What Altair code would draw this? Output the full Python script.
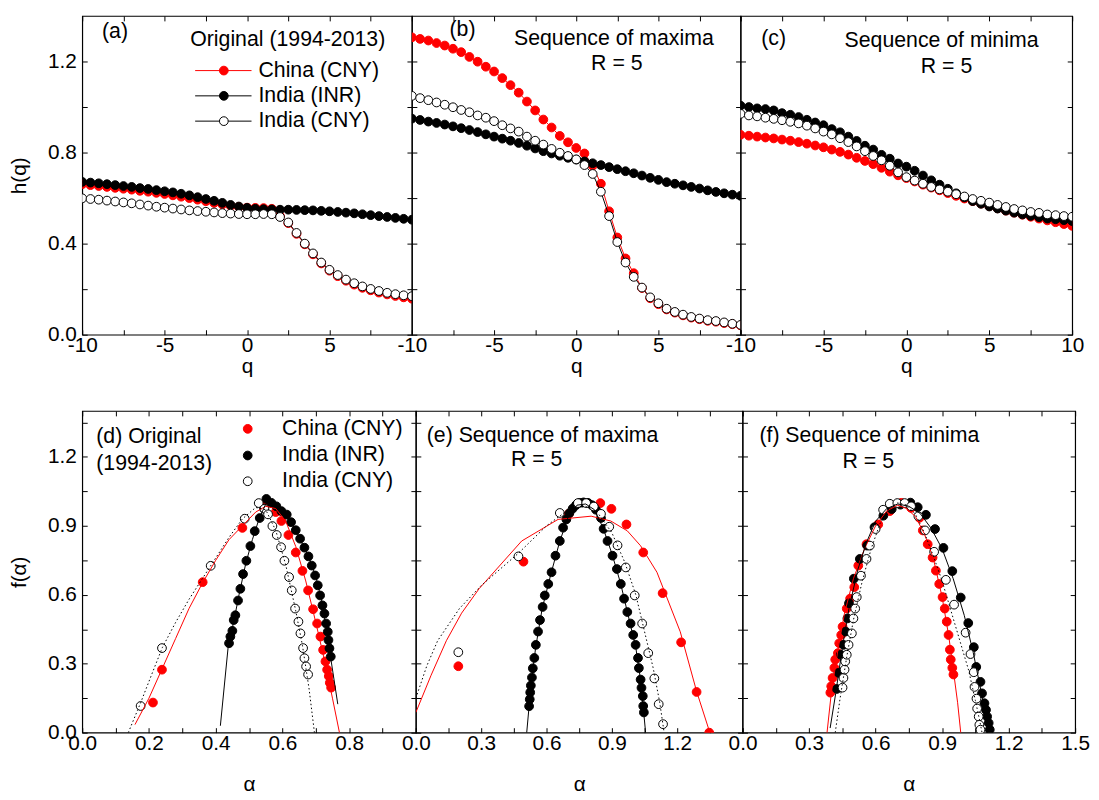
import json
import altair as alt
import pandas as pd

FONT = "Liberation Sans"
TICK = 5
LAB = 21
ANN = 21.5
MS = 78

# ---------------- top row: h(q) ----------------
q_vals = [-10.0, -9.5, -9.0, -8.5, -8.0, -7.5, -7.0, -6.5, -6.0, -5.5, -5.0, -4.5, -4.0, -3.5,
          -3.0, -2.5, -2.0, -1.5, -1.0, -0.5, 0.0, 0.5, 1.0, 1.5, 2.0, 2.5, 3.0, 3.5, 4.0, 4.5,
          5.0, 5.5, 6.0, 6.5, 7.0, 7.5, 8.0, 8.5, 9.0, 9.5, 10.0]

a_china = [0.661, 0.657, 0.653, 0.649, 0.645, 0.641, 0.637, 0.632, 0.628, 0.623,
           0.618, 0.612, 0.606, 0.600, 0.593, 0.586, 0.579, 0.572, 0.566, 0.561,
           0.558, 0.557, 0.556, 0.553, 0.520, 0.490, 0.443, 0.397, 0.353, 0.313,
           0.281, 0.257, 0.237, 0.220, 0.206, 0.195, 0.185, 0.177, 0.170, 0.164, 0.158]
a_inr = [0.671, 0.668, 0.665, 0.661, 0.657, 0.653, 0.649, 0.644, 0.640, 0.635,
         0.630, 0.625, 0.619, 0.612, 0.604, 0.596, 0.588, 0.579, 0.570, 0.563,
         0.557, 0.553, 0.551, 0.550, 0.549, 0.549, 0.548, 0.547, 0.546, 0.544,
         0.542, 0.539, 0.536, 0.533, 0.529, 0.525, 0.521, 0.517, 0.513, 0.509, 0.505]
a_cny = [0.599, 0.596, 0.593, 0.589, 0.585, 0.581, 0.577, 0.572, 0.567, 0.562,
         0.558, 0.554, 0.550, 0.546, 0.543, 0.540, 0.537, 0.534, 0.532, 0.530,
         0.529, 0.529, 0.530, 0.529, 0.517, 0.493, 0.447, 0.400, 0.357, 0.317,
         0.285, 0.262, 0.242, 0.226, 0.212, 0.201, 0.192, 0.184, 0.178, 0.173, 0.169]

b_china = [1.306, 1.299, 1.292, 1.281, 1.270, 1.256, 1.241, 1.220, 1.199, 1.177,
           1.156, 1.127, 1.096, 1.063, 1.024, 0.985, 0.945, 0.910, 0.873, 0.845,
           0.820, 0.796, 0.742, 0.663, 0.542, 0.427, 0.335, 0.270, 0.205, 0.160,
           0.134, 0.111, 0.097, 0.085, 0.075, 0.068, 0.061, 0.057, 0.051, 0.046, 0.041]
b_inr = [0.949, 0.943, 0.936, 0.930, 0.923, 0.915, 0.907, 0.899, 0.890, 0.880,
         0.870, 0.861, 0.852, 0.842, 0.830, 0.818, 0.806, 0.796, 0.786, 0.777,
         0.769, 0.761, 0.753, 0.745, 0.736, 0.727, 0.718, 0.709, 0.699, 0.689,
         0.680, 0.670, 0.663, 0.656, 0.649, 0.642, 0.634, 0.627, 0.621, 0.615, 0.610]
b_cny = [1.049, 1.039, 1.030, 1.020, 1.010, 0.999, 0.987, 0.977, 0.963, 0.953,
         0.938, 0.920, 0.906, 0.892, 0.870, 0.852, 0.835, 0.816, 0.799, 0.785,
         0.770, 0.745, 0.706, 0.628, 0.521, 0.407, 0.317, 0.254, 0.207, 0.164,
         0.138, 0.114, 0.100, 0.088, 0.078, 0.071, 0.064, 0.060, 0.054, 0.048, 0.043]

c_china = [0.878, 0.874, 0.870, 0.866, 0.862, 0.857, 0.852, 0.846, 0.839, 0.831,
           0.823, 0.813, 0.803, 0.791, 0.777, 0.763, 0.749, 0.733, 0.716, 0.700,
           0.688, 0.673, 0.659, 0.646, 0.634, 0.622, 0.610, 0.598, 0.587, 0.576,
           0.565, 0.555, 0.545, 0.536, 0.527, 0.518, 0.510, 0.502, 0.494, 0.486, 0.478]
c_inr = [1.006, 1.000, 0.994, 0.991, 0.985, 0.973, 0.966, 0.956, 0.944, 0.932,
         0.920, 0.903, 0.889, 0.870, 0.851, 0.830, 0.813, 0.790, 0.773, 0.752,
         0.738, 0.720, 0.699, 0.678, 0.659, 0.641, 0.621, 0.603, 0.587, 0.575,
         0.563, 0.554, 0.545, 0.536, 0.528, 0.522, 0.516, 0.510, 0.507, 0.503, 0.499]
c_cny = [0.970, 0.963, 0.959, 0.953, 0.948, 0.942, 0.935, 0.928, 0.918, 0.906,
         0.892, 0.880, 0.863, 0.846, 0.827, 0.806, 0.785, 0.766, 0.742, 0.713,
         0.692, 0.677, 0.663, 0.649, 0.638, 0.628, 0.617, 0.607, 0.596, 0.588,
         0.580, 0.570, 0.561, 0.552, 0.546, 0.539, 0.535, 0.528, 0.525, 0.521, 0.518]

# ---------------- bottom row: f(alpha) points ----------------
d_china_a = [0.212, 0.239, 0.361, 0.480, 0.545, 0.580, 0.597, 0.618, 0.640, 0.660,
             0.677, 0.692, 0.704, 0.714, 0.722, 0.729, 0.734, 0.739, 0.742, 0.746]
d_china_f = [0.131, 0.274, 0.655, 0.891, 0.990, 0.960, 0.921, 0.860, 0.784, 0.704,
             0.619, 0.537, 0.475, 0.418, 0.360, 0.310, 0.274, 0.246, 0.217, 0.196]
d_inr_a = [0.440, 0.444, 0.450, 0.454, 0.459, 0.467, 0.474, 0.482, 0.492, 0.504,
           0.517, 0.532, 0.545, 0.552, 0.567, 0.582, 0.597, 0.613, 0.626, 0.640,
           0.653, 0.666, 0.678, 0.688, 0.698, 0.706, 0.713, 0.720, 0.726, 0.731,
           0.736, 0.738, 0.741, 0.745]
d_inr_f = [0.389, 0.418, 0.443, 0.490, 0.511, 0.575, 0.626, 0.690, 0.748, 0.812,
           0.877, 0.934, 0.975, 1.017, 1.000, 0.985, 0.964, 0.949, 0.916, 0.881,
           0.844, 0.805, 0.767, 0.727, 0.684, 0.641, 0.597, 0.554, 0.518, 0.475,
           0.439, 0.403, 0.367, 0.331]
d_cny_a = [0.175, 0.239, 0.385, 0.487, 0.529, 0.546, 0.557, 0.570, 0.583, 0.596,
           0.606, 0.620, 0.628, 0.638, 0.648, 0.654, 0.662, 0.666, 0.671, 0.677]
d_cny_f = [0.116, 0.368, 0.726, 0.931, 0.999, 0.974, 0.950, 0.899, 0.860, 0.807,
           0.748, 0.677, 0.619, 0.540, 0.483, 0.432, 0.368, 0.324, 0.288, 0.253]

e_china_a = [0.195, 0.494, 0.702, 0.847, 0.898, 0.967, 1.044, 1.133, 1.218, 1.289, 1.347]
e_china_f = [0.289, 0.744, 0.952, 0.999, 0.974, 0.906, 0.784, 0.607, 0.393, 0.177, 0.0]
e_inr_a = [0.520, 0.523, 0.525, 0.528, 0.533, 0.537, 0.544, 0.551, 0.561, 0.570,
           0.582, 0.592, 0.608, 0.623, 0.641, 0.661, 0.676, 0.691, 0.705, 0.720,
           0.735, 0.752, 0.770, 0.790, 0.808, 0.827, 0.850, 0.862, 0.880, 0.903,
           0.923, 0.941, 0.956, 0.971, 0.986, 0.998, 1.009, 1.020, 1.024, 1.032,
           1.036, 1.042, 1.044, 1.047]
e_inr_f = [0.115, 0.145, 0.175, 0.205, 0.240, 0.280, 0.325, 0.382, 0.440, 0.490,
           0.547, 0.597, 0.647, 0.698, 0.770, 0.834, 0.892, 0.928, 0.955, 0.975,
           0.990, 1.000, 1.002, 1.000, 0.990, 0.970, 0.934, 0.887, 0.834, 0.770,
           0.712, 0.647, 0.583, 0.525, 0.475, 0.425, 0.382, 0.325, 0.281, 0.231,
           0.195, 0.159, 0.116, 0.088]
e_cny_a = [0.195, 0.471, 0.661, 0.744, 0.782, 0.817, 0.850, 0.888, 0.926, 0.964,
           1.005, 1.039, 1.067, 1.095, 1.115, 1.135]
e_cny_f = [0.350, 0.767, 0.956, 0.999, 0.999, 0.984, 0.952, 0.896, 0.815, 0.719,
           0.597, 0.475, 0.346, 0.236, 0.124, 0.037]

f_china_a = [0.396, 0.400, 0.406, 0.414, 0.418, 0.430, 0.436, 0.445, 0.451, 0.470,
             0.485, 0.504, 0.522, 0.559, 0.612, 0.664, 0.716, 0.760, 0.798, 0.813,
             0.835, 0.857, 0.872, 0.887, 0.902, 0.912, 0.921, 0.929, 0.935, 0.939,
             0.946, 0.951]
f_china_f = [0.174, 0.202, 0.238, 0.282, 0.318, 0.346, 0.389, 0.425, 0.461, 0.540,
             0.583, 0.633, 0.727, 0.820, 0.906, 0.964, 1.000, 0.978, 0.935, 0.880,
             0.820, 0.762, 0.705, 0.647, 0.590, 0.540, 0.483, 0.425, 0.361, 0.318,
             0.282, 0.253]
f_inr_a = [0.425, 0.433, 0.443, 0.455, 0.465, 0.473, 0.480, 0.502, 0.529, 0.562,
           0.595, 0.635, 0.673, 0.712, 0.757, 0.790, 0.827, 0.868, 0.906, 0.946,
           0.984, 1.018, 1.043, 1.054, 1.073, 1.080, 1.091, 1.098, 1.103, 1.110, 1.115]
f_inr_f = [0.190, 0.260, 0.339, 0.382, 0.440, 0.497, 0.563, 0.670, 0.756, 0.814,
           0.894, 0.944, 0.973, 0.992, 1.001, 0.981, 0.948, 0.886, 0.804, 0.703,
           0.588, 0.477, 0.372, 0.286, 0.221, 0.171, 0.128, 0.099, 0.070, 0.042, 0.013]
f_cny_a = [0.451, 0.455, 0.460, 0.463, 0.470, 0.478, 0.493, 0.500, 0.508, 0.515,
           0.534, 0.559, 0.574, 0.600, 0.634, 0.664, 0.698, 0.731, 0.760, 0.793,
           0.823, 0.864, 0.917, 0.954, 1.006, 1.028, 1.043, 1.046, 1.055, 1.058,
           1.065, 1.068, 1.073]
f_cny_f = [0.196, 0.238, 0.274, 0.310, 0.339, 0.382, 0.432, 0.497, 0.540, 0.590,
           0.683, 0.756, 0.814, 0.886, 0.970, 0.996, 0.999, 0.999, 0.985, 0.942,
           0.880, 0.787, 0.665, 0.557, 0.435, 0.342, 0.263, 0.199, 0.148, 0.105,
           0.070, 0.034, 0.013]

# ---------------- bottom row: fitted curves ----------------
d_china_fit_a = [0.158, 0.20, 0.24, 0.28, 0.32, 0.36, 0.40, 0.44, 0.48, 0.52, 0.55, 0.58,
                 0.61, 0.64, 0.67, 0.70, 0.73, 0.75, 0.771]
d_china_fit_f = [0.035, 0.15, 0.28, 0.41, 0.54, 0.65, 0.75, 0.84, 0.90, 0.96, 0.985, 0.975,
                 0.92, 0.81, 0.66, 0.48, 0.29, 0.15, 0.0]
d_inr_fit_a = [0.414, 0.437, 0.455, 0.47, 0.49, 0.51, 0.53, 0.55, 0.565, 0.58, 0.60, 0.62,
               0.64, 0.66, 0.68, 0.70, 0.72, 0.74, 0.766]
d_inr_fit_f = [0.03, 0.368, 0.49, 0.60, 0.735, 0.84, 0.93, 0.995, 1.005, 0.99, 0.96, 0.925,
               0.88, 0.82, 0.76, 0.68, 0.56, 0.37, 0.124]
d_cny_fit_a = [0.138, 0.175, 0.21, 0.24, 0.28, 0.32, 0.36, 0.40, 0.44, 0.48, 0.52, 0.55,
               0.58, 0.61, 0.64, 0.66, 0.68, 0.696]
d_cny_fit_f = [0.0, 0.13, 0.26, 0.37, 0.48, 0.58, 0.67, 0.76, 0.85, 0.93, 0.98, 0.97,
               0.88, 0.73, 0.53, 0.38, 0.19, 0.0]

e_china_fit_a = [0.0, 0.07, 0.14, 0.21, 0.29, 0.486, 0.653, 0.805, 0.895, 0.971, 1.032,
                 1.107, 1.214, 1.289, 1.350]
e_china_fit_f = [0.088, 0.25, 0.40, 0.52, 0.626, 0.834, 0.928, 0.942, 0.921, 0.878, 0.813,
                 0.698, 0.439, 0.180, 0.0]
e_inr_fit_a = [0.509, 0.520, 0.53, 0.55, 0.58, 0.62, 0.66, 0.70, 0.74, 0.78, 0.82, 0.86,
               0.90, 0.94, 0.98, 1.01, 1.03, 1.045, 1.055]
e_inr_fit_f = [0.0, 0.115, 0.22, 0.37, 0.54, 0.69, 0.83, 0.94, 0.99, 0.995, 0.97, 0.89,
               0.78, 0.65, 0.49, 0.37, 0.24, 0.10, 0.0]
e_cny_fit_a = [0.0, 0.05, 0.10, 0.15, 0.20, 0.30, 0.47, 0.60, 0.70, 0.78, 0.84, 0.90,
               0.96, 1.01, 1.05, 1.09, 1.12, 1.14]
e_cny_fit_f = [0.15, 0.29, 0.40, 0.47, 0.54, 0.64, 0.78, 0.90, 0.97, 0.985, 0.95, 0.87,
               0.74, 0.60, 0.44, 0.28, 0.13, 0.0]

f_china_fit_a = [0.381, 0.40, 0.43, 0.46, 0.50, 0.55, 0.60, 0.65, 0.70, 0.74, 0.78, 0.82,
                 0.86, 0.90, 0.93, 0.955, 0.97, 0.984]
f_china_fit_f = [0.0, 0.17, 0.36, 0.52, 0.67, 0.80, 0.90, 0.965, 0.99, 0.975, 0.94, 0.865,
                 0.76, 0.59, 0.42, 0.24, 0.13, 0.0]
f_inr_fit_a = [0.395, 0.42, 0.45, 0.48, 0.52, 0.56, 0.60, 0.65, 0.70, 0.75, 0.80, 0.85,
               0.90, 0.95, 1.00, 1.04, 1.08, 1.105]
f_inr_fit_f = [0.02, 0.17, 0.37, 0.54, 0.71, 0.83, 0.92, 0.975, 0.995, 0.985, 0.955, 0.89,
               0.80, 0.67, 0.51, 0.35, 0.16, 0.0]
f_cny_fit_a = [0.418, 0.44, 0.47, 0.50, 0.54, 0.58, 0.62, 0.66, 0.70, 0.74, 0.78, 0.82,
               0.86, 0.90, 0.94, 0.98, 1.02, 1.05, 1.07, 1.08]
f_cny_fit_f = [0.0, 0.15, 0.33, 0.49, 0.66, 0.80, 0.91, 0.975, 1.0, 0.99, 0.95, 0.87,
               0.77, 0.66, 0.53, 0.40, 0.27, 0.14, 0.05, 0.0]

# ---------------- ticks and texts ----------------
series_names = ["China (CNY)", "India (INR)", "India (CNY)"]
top_xticks = [-10, -7.5, -5, -2.5, 0, 2.5, 5, 7.5, 10]
top_yticks = [0, 0.2, 0.4, 0.6, 0.8, 1.0, 1.2]
top_ylabels = [0, 0.4, 0.8, 1.2]
bot_yticks = [0, 0.15, 0.3, 0.45, 0.6, 0.75, 0.9, 1.05, 1.2, 1.35]
bot_ylabels = [0, 0.3, 0.6, 0.9, 1.2]
d_xticks = [0, 0.1, 0.2, 0.3, 0.4, 0.5, 0.6, 0.7, 0.8, 0.9, 1.0]
d_xlabels = [0, 0.2, 0.4, 0.6, 0.8]
ef_xticks = [0, 0.15, 0.3, 0.45, 0.6, 0.75, 0.9, 1.05, 1.2, 1.35, 1.5]
e_xlabels = [0, 0.3, 0.6, 0.9, 1.2]
f_xlabels = [0, 0.3, 0.6, 0.9, 1.2, 1.5]

RED = "#ff0000"
BLACK = "#000000"
STYLES = [  # fill, stroke, line colour, dash
    (RED, RED, RED, None),
    (BLACK, BLACK, BLACK, None),
    ("#ffffff", BLACK, BLACK, [1.5, 2.5]),
]


def sc(dom):
    return alt.Scale(domain=dom, nice=False, zero=False)


def lab_expr(vals, fmt):
    arr = json.dumps(vals)
    if fmt == "int":
        return f"indexof({arr}, datum.value) >= 0 ? '' + datum.value : ''"
    return f"indexof({arr}, datum.value) >= 0 ? format(datum.value, '.1f') : ''"


def enc(xs, ys):
    return dict(x=alt.X("x:Q", scale=xs, axis=None), y=alt.Y("y:Q", scale=ys, axis=None))


def pts_layer(xv, yv, k, xs, ys):
    fill, stroke, _, _ = STYLES[k]
    df = pd.DataFrame({"x": xv, "y": yv})
    return alt.Chart(df).mark_point(shape="circle", filled=True, fill=fill, stroke=stroke,
                                    strokeWidth=1, size=MS, opacity=1, clip=True).encode(**enc(xs, ys))


def line_layer(xv, yv, k, xs, ys, dashed=False):
    _, _, col, dash = STYLES[k]
    df = pd.DataFrame({"x": xv, "y": yv})
    kw = dict(color=col, strokeWidth=1, clip=True)
    if dashed and dash:
        kw["strokeDash"] = dash
    return alt.Chart(df).mark_line(**kw).encode(**enc(xs, ys))


def text_layer(rows, align, xs, ys):
    df = pd.DataFrame(rows, columns=["x", "y", "t"])
    return alt.Chart(df).mark_text(align=align, baseline="middle", font=FONT, fontSize=ANN,
                                   color="black").encode(text="t:N", **enc(xs, ys))


def panel(w, h, xdom, ydom, xticks, xlabels, xfmt, yticks, ylabels, xtitle, xtpad, ytitle,
          content):
    xs, ys = sc(xdom), sc(ydom)
    corners = pd.DataFrame({"x": xdom, "y": ydom})
    xa = dict(orient="bottom", values=xticks, tickSize=TICK, offset=-TICK, domain=False,
              grid=False, labelFlush=False, labelOverlap=False, labelPadding=0,
              labelExpr=lab_expr(xlabels, xfmt), title=xtitle, titlePadding=xtpad)
    ya = dict(orient="left", values=yticks, tickSize=TICK, offset=-TICK, domain=False,
              grid=False, labelOverlap=False, labelPadding=6)
    if ylabels is not None:
        ya["labelExpr"] = lab_expr(ylabels, "f1")
        ya["title"] = ytitle
        ya["titlePadding"] = 18
    else:
        ya["labels"] = False
        ya["title"] = None
    base = alt.Chart(corners).mark_point(opacity=0).encode(
        x=alt.X("x:Q", scale=xs, axis=alt.Axis(**xa)),
        y=alt.Y("y:Q", scale=ys, axis=alt.Axis(**ya)))
    mirror = alt.Chart(corners).mark_point(opacity=0).encode(
        x=alt.X("x:Q", scale=xs, axis=alt.Axis(orient="top", values=xticks, tickSize=TICK,
                                               offset=-TICK, domain=False, grid=False,
                                               labels=False, title=None)),
        y=alt.Y("y:Q", scale=ys, axis=alt.Axis(orient="right", values=yticks, tickSize=TICK,
                                               offset=-TICK, domain=False, grid=False,
                                               labels=False, title=None)))
    layers = [base, mirror] + content(xs, ys)
    return alt.layer(*layers).resolve_axis(x="independent", y="independent").properties(
        width=w, height=h)


TOP_H = 322
BOT_H = 325
Q_PAD = 0


def top_content(series, texts_left, texts_center, legend=False):
    def f(xs, ys):
        out = []
        for k, s in enumerate(series):
            out.append(line_layer(q_vals, s, k, xs, ys))
            out.append(pts_layer(q_vals, s, k, xs, ys))
        if legend:
            rows_y = [1.160, 1.049, 0.938]
            for k, yy in enumerate(rows_y):
                out.append(line_layer([-3.15, 0.27], [yy, yy], k, xs, ys))
                out.append(pts_layer([-1.41], [yy], k, xs, ys))
            out.append(text_layer([[0.69, yy, n] for yy, n in zip(rows_y, series_names)],
                                  "left", xs, ys))
        out.append(text_layer(texts_left, "left", xs, ys))
        if texts_center:
            out.append(text_layer(texts_center, "center", xs, ys))
        return out
    return f


def bot_content(pts, fits, texts_left, texts_center, legend=False):
    def f(xs, ys):
        out = []
        for k, (a, v) in enumerate(pts):
            out.append(pts_layer(a, v, k, xs, ys))
        for k, (a, v) in enumerate(fits):
            out.append(line_layer(a, v, k, xs, ys, dashed=True))
        if legend:
            rows_y = [1.322, 1.206, 1.094]
            for k, yy in enumerate(rows_y):
                out.append(pts_layer([0.496], [yy], k, xs, ys))
            out.append(text_layer([[0.599, yy, n] for yy, n in zip(rows_y, series_names)],
                                  "left", xs, ys))
        out.append(text_layer(texts_left, "left", xs, ys))
        if texts_center:
            out.append(text_layer(texts_center, "center", xs, ys))
        return out
    return f


pa = panel(333, TOP_H, [-10, 10], [0, 1.4], top_xticks, [-10, -5, 0, 5], "int",
           top_yticks, top_ylabels, "q", Q_PAD, "h(q)",
           top_content([a_china, a_inr, a_cny],
                       [[-8.8, 1.327, "(a)"], [-3.45, 1.293, "Original (1994-2013)"]], None,
                       legend=True))
pb = panel(332, TOP_H, [-10, 10], [0, 1.4], top_xticks, [-10, -5, 0, 5], "int",
           top_yticks, None, "q", Q_PAD, None,
           top_content([b_china, b_inr, b_cny], [[-7.71, 1.336, "(b)"]],
                       [[2.29, 1.297, "Sequence of maxima"], [2.47, 1.190, "R = 5"]]))
pc = panel(335, TOP_H, [-10, 10], [0, 1.4], top_xticks, [-10, -5, 0, 5, 10], "int",
           top_yticks, None, "q", Q_PAD, None,
           top_content([c_china, c_inr, c_cny], [[-8.75, 1.297, "(c)"]],
                       [[2.12, 1.289, "Sequence of minima"], [2.42, 1.177, "R = 5"]]))

pd_ = panel(337, BOT_H, [0, 1.0], [0, 1.4], d_xticks, d_xlabels, "f1",
            bot_yticks, bot_ylabels, "α", 20, "f(α)",
            bot_content([(d_china_a, d_china_f), (d_inr_a, d_inr_f), (d_cny_a, d_cny_f)],
                        [(d_china_fit_a, d_china_fit_f), (d_inr_fit_a, d_inr_fit_f),
                         (d_cny_fit_a, d_cny_fit_f)],
                        [[0.042, 1.288, "(d) Original"], [0.042, 1.167, "(1994-2013)"]], None,
                        legend=True))
pe = panel(330, BOT_H, [0, 1.5], [0, 1.4], ef_xticks, e_xlabels, "f1",
           bot_yticks, None, "α", 20, None,
           bot_content([(e_china_a, e_china_f), (e_inr_a, e_inr_f), (e_cny_a, e_cny_f)],
                       [(e_china_fit_a, e_china_fit_f), (e_inr_fit_a, e_inr_fit_f),
                        (e_cny_fit_a, e_cny_fit_f)],
                       [[0.05, 1.292, "(e) Sequence of maxima"]], [[0.555, 1.185, "R = 5"]]))
pf = panel(336, BOT_H, [0, 1.5], [0, 1.4], ef_xticks, f_xlabels, "f1",
           bot_yticks, None, "α", 20, None,
           bot_content([(f_china_a, f_china_f), (f_inr_a, f_inr_f), (f_cny_a, f_cny_f)],
                       [(f_china_fit_a, f_china_fit_f), (f_inr_fit_a, f_inr_fit_f),
                        (f_cny_fit_a, f_cny_fit_f)],
                       [[0.076, 1.292, "(f) Sequence of minima"]], [[0.567, 1.176, "R = 5"]]))

top = alt.hconcat(pa, pb, pc, spacing=0, bounds="flush")
bot = alt.hconcat(pd_, pe, pf, spacing=0, bounds="flush")

chart = alt.vconcat(top, bot, spacing=30).properties(
    padding={"left": 0, "top": 0, "right": 0, "bottom": 0},
    background="white",
).configure_view(stroke="black", strokeWidth=1.2).configure_axis(
    labelFont=FONT, labelFontSize=LAB, labelColor="black",
    titleFont=FONT, titleFontSize=LAB, titleFontWeight="normal", titleColor="black",
    tickColor="black", tickWidth=1,
)

chart.save("out.html", embed_options={"renderer": "svg", "actions": False})
